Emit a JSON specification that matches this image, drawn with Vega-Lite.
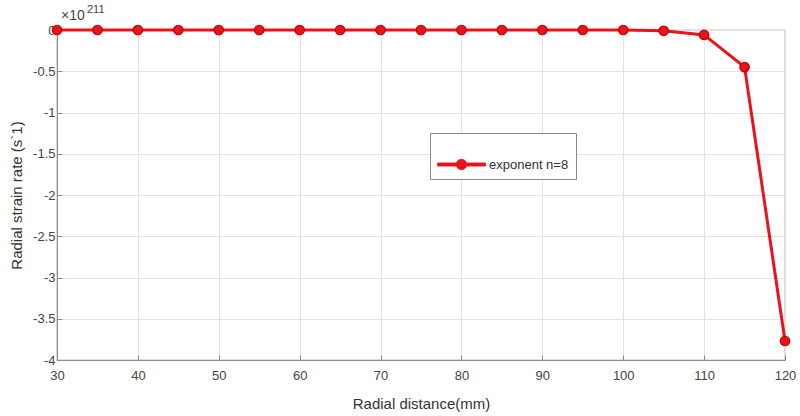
{
  "$schema": "https://vega.github.io/schema/vega-lite/v6.json",
  "width": 728,
  "height": 330,
  "autosize": {"type": "none"},
  "padding": {"left": 57, "top": 30, "right": 15, "bottom": 56},
  "background": "white",
  "config": {
    "font": "Liberation Sans",
    "view": {"stroke": "#8a8a8a", "strokeWidth": 1.2},
    "axis": {
      "domainColor": "#8a8a8a",
      "tickColor": "#8a8a8a",
      "gridColor": "#e3e3e3",
      "labelColor": "#444",
      "titleColor": "#333",
      "labelFont": "Liberation Sans",
      "titleFont": "Liberation Sans",
      "labelFontSize": 13,
      "titleFontSize": 15,
      "titleFontWeight": "normal",
      "tickSize": -5,
      "labelFlush": false
    }
  },
  "datasets": {
    "main": [
      {"r": 30, "rate": 0, "series": "exponent n=8"},
      {"r": 35, "rate": 0, "series": "exponent n=8"},
      {"r": 40, "rate": 0, "series": "exponent n=8"},
      {"r": 45, "rate": 0, "series": "exponent n=8"},
      {"r": 50, "rate": 0, "series": "exponent n=8"},
      {"r": 55, "rate": 0, "series": "exponent n=8"},
      {"r": 60, "rate": 0, "series": "exponent n=8"},
      {"r": 65, "rate": 0, "series": "exponent n=8"},
      {"r": 70, "rate": 0, "series": "exponent n=8"},
      {"r": 75, "rate": 0, "series": "exponent n=8"},
      {"r": 80, "rate": 0, "series": "exponent n=8"},
      {"r": 85, "rate": 0, "series": "exponent n=8"},
      {"r": 90, "rate": 0, "series": "exponent n=8"},
      {"r": 95, "rate": 0, "series": "exponent n=8"},
      {"r": 100, "rate": 0, "series": "exponent n=8"},
      {"r": 105, "rate": -0.01, "series": "exponent n=8"},
      {"r": 110, "rate": -0.06, "series": "exponent n=8"},
      {"r": 115, "rate": -0.45, "series": "exponent n=8"},
      {"r": 120, "rate": -3.77, "series": "exponent n=8"}
    ],
    "expo": [{"x": 30, "y": 0, "base": "×10", "pow": "211"}]
  },
  "layer": [
    {
      "data": {"name": "main"},
      "mark": {"type": "line", "strokeWidth": 3, "clip": false},
      "encoding": {
        "x": {
          "field": "r", "type": "quantitative",
          "scale": {"domain": [30, 120], "nice": false},
          "axis": {"values": [30, 40, 50, 60, 70, 80, 90, 100, 110, 120], "title": "Radial distance(mm)", "titlePadding": 14, "labelPadding": 14}
        },
        "y": {
          "field": "rate", "type": "quantitative",
          "scale": {"domain": [-4, 0], "nice": false},
          "axis": {"values": [0, -0.5, -1, -1.5, -2, -2.5, -3, -3.5, -4], "title": "Radial strain rate (s`1)", "labelExpr": "replace(format(datum.value, '~g'), '−', '-')", "titlePadding": 8, "labelPadding": 7}
        },
        "color": {
          "field": "series", "type": "nominal",
          "scale": {"range": ["#e8141a"]},
          "legend": {
            "title": null,
            "orient": "none",
            "legendX": 373,
            "legendY": 103,
            "strokeColor": "#8a8a8a",
            "fillColor": "white",
            "padding": 7,
            "labelFontSize": 13,
            "labelColor": "#333",
            "labelOffset": 3,
            "symbolType": "M-1,-0.065H-0.2V0.065H-1Z M0.2,-0.065H1V0.065H0.2Z M-0.22,0A0.22,0.22 0 1,1 0.22,0A0.22,0.22 0 1,1 -0.22,0Z",
            "symbolSize": 2300,
            "symbolFillColor": "#e8141a",
            "symbolStrokeColor": "#c00000",
            "symbolStrokeWidth": 0.8
          }
        }
      }
    },
    {
      "data": {"name": "main"},
      "mark": {"type": "point", "filled": true, "size": 90, "stroke": "#c00000", "strokeWidth": 1.2, "opacity": 1, "clip": false},
      "encoding": {
        "x": {"field": "r", "type": "quantitative"},
        "y": {"field": "rate", "type": "quantitative"},
        "color": {"field": "series", "type": "nominal", "legend": null}
      }
    },
    {
      "data": {"name": "expo"},
      "mark": {"type": "text", "align": "left", "baseline": "alphabetic", "dx": 4, "dy": -10, "fontSize": 14, "color": "#444", "font": "Liberation Sans"},
      "encoding": {
        "x": {"field": "x", "type": "quantitative"},
        "y": {"field": "y", "type": "quantitative"},
        "text": {"field": "base"}
      }
    },
    {
      "data": {"name": "expo"},
      "mark": {"type": "text", "align": "left", "baseline": "alphabetic", "dx": 30, "dy": -17, "fontSize": 11, "color": "#444", "font": "Liberation Sans"},
      "encoding": {
        "x": {"field": "x", "type": "quantitative"},
        "y": {"field": "y", "type": "quantitative"},
        "text": {"field": "pow"}
      }
    }
  ]
}
